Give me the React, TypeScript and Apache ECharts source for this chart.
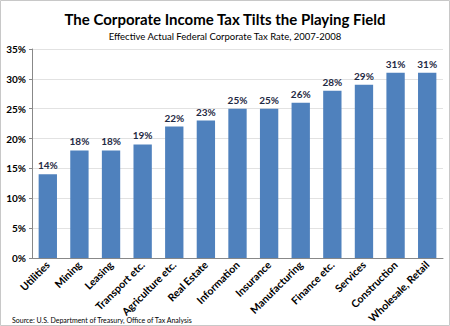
import React, { useEffect, useRef } from "react";
import * as echarts from "echarts";

const categories = [
  "Utilities", "Mining", "Leasing", "Transport etc.", "Agriculture etc.", "Real Estate",
  "Information", "Insurance", "Manufacturing", "Finance etc.", "Services", "Construction", "Wholesale, Retail",
];
const rates = [14, 18, 18, 19, 22, 23, 25, 25, 26, 28, 29, 31, 31];
const titleText = "The Corporate Income Tax Tilts the Playing Field";
const subtitleText = "Effective Actual Federal Corporate Tax Rate, 2007-2008";
const sourceText = "Source: U.S. Department of Treasury, Office of Tax Analysis";

const FONT = "Lato, 'Open Sans', sans-serif";

export default function App() {
  const ref = useRef<HTMLDivElement>(null);
  useEffect(() => {
    document.body.style.margin = "0";
    const chart = echarts.init(ref.current!, undefined, { renderer: "svg" });
    chart.setOption({
      animation: false,
      backgroundColor: "#ffffff",
      textStyle: { fontFamily: FONT },
      title: [
        {
          text: titleText,
          left: "center",
          top: 6,
          textStyle: { fontFamily: FONT, fontSize: 15, fontWeight: "bold", color: "#000" },
        },
        {
          text: subtitleText,
          left: "center",
          top: 26,
          textStyle: { fontFamily: FONT, fontSize: 9.5, fontWeight: "normal", color: "#000" },
        },
      ],
      grid: { left: 32, right: 7, top: 49, bottom: 66, containLabel: false },
      xAxis: {
        type: "category",
        data: categories,
        axisLine: { lineStyle: { color: "#888" } },
        axisTick: { show: false },
        axisLabel: {
          rotate: 45,
          interval: 0,
          fontSize: 10.5,
          fontWeight: "bold",
          color: "#000",
          fontFamily: FONT,
          margin: 5,
        },
      },
      yAxis: {
        type: "value",
        min: 0,
        max: 35,
        interval: 5,
        axisLine: { show: true, lineStyle: { color: "#888" } },
        axisTick: { show: true, length: 3, lineStyle: { color: "#888" } },
        splitLine: { lineStyle: { color: "#e2e2e2" } },
        axisLabel: {
          formatter: "{value}%",
          fontSize: 10,
          fontWeight: "bold",
          color: "#000",
          fontFamily: FONT,
          margin: 6,
        },
      },
      series: [
        {
          type: "bar",
          data: rates,
          barWidth: "58%",
          itemStyle: { color: "#4f81bd" },
          label: {
            show: true,
            position: "top",
            formatter: "{c}%",
            fontSize: 10,
            fontWeight: "bold",
            color: "#1f2a44",
            fontFamily: FONT,
            distance: 4,
          },
        },
      ],
      graphic: [
        {
          type: "rect",
          shape: { x: 0.5, y: 0.5, width: 449, height: 325 },
          style: { fill: "none", stroke: "#c8c8c8", lineWidth: 1 },
          silent: true,
        },
        {
          type: "text",
          left: 12,
          top: 316,
          style: { text: sourceText, fontSize: 7, fill: "#000", fontFamily: FONT },
        },
      ],
    });
    return () => chart.dispose();
  }, []);
  return <div ref={ref} style={{ width: 450, height: 326 }} />;
}
